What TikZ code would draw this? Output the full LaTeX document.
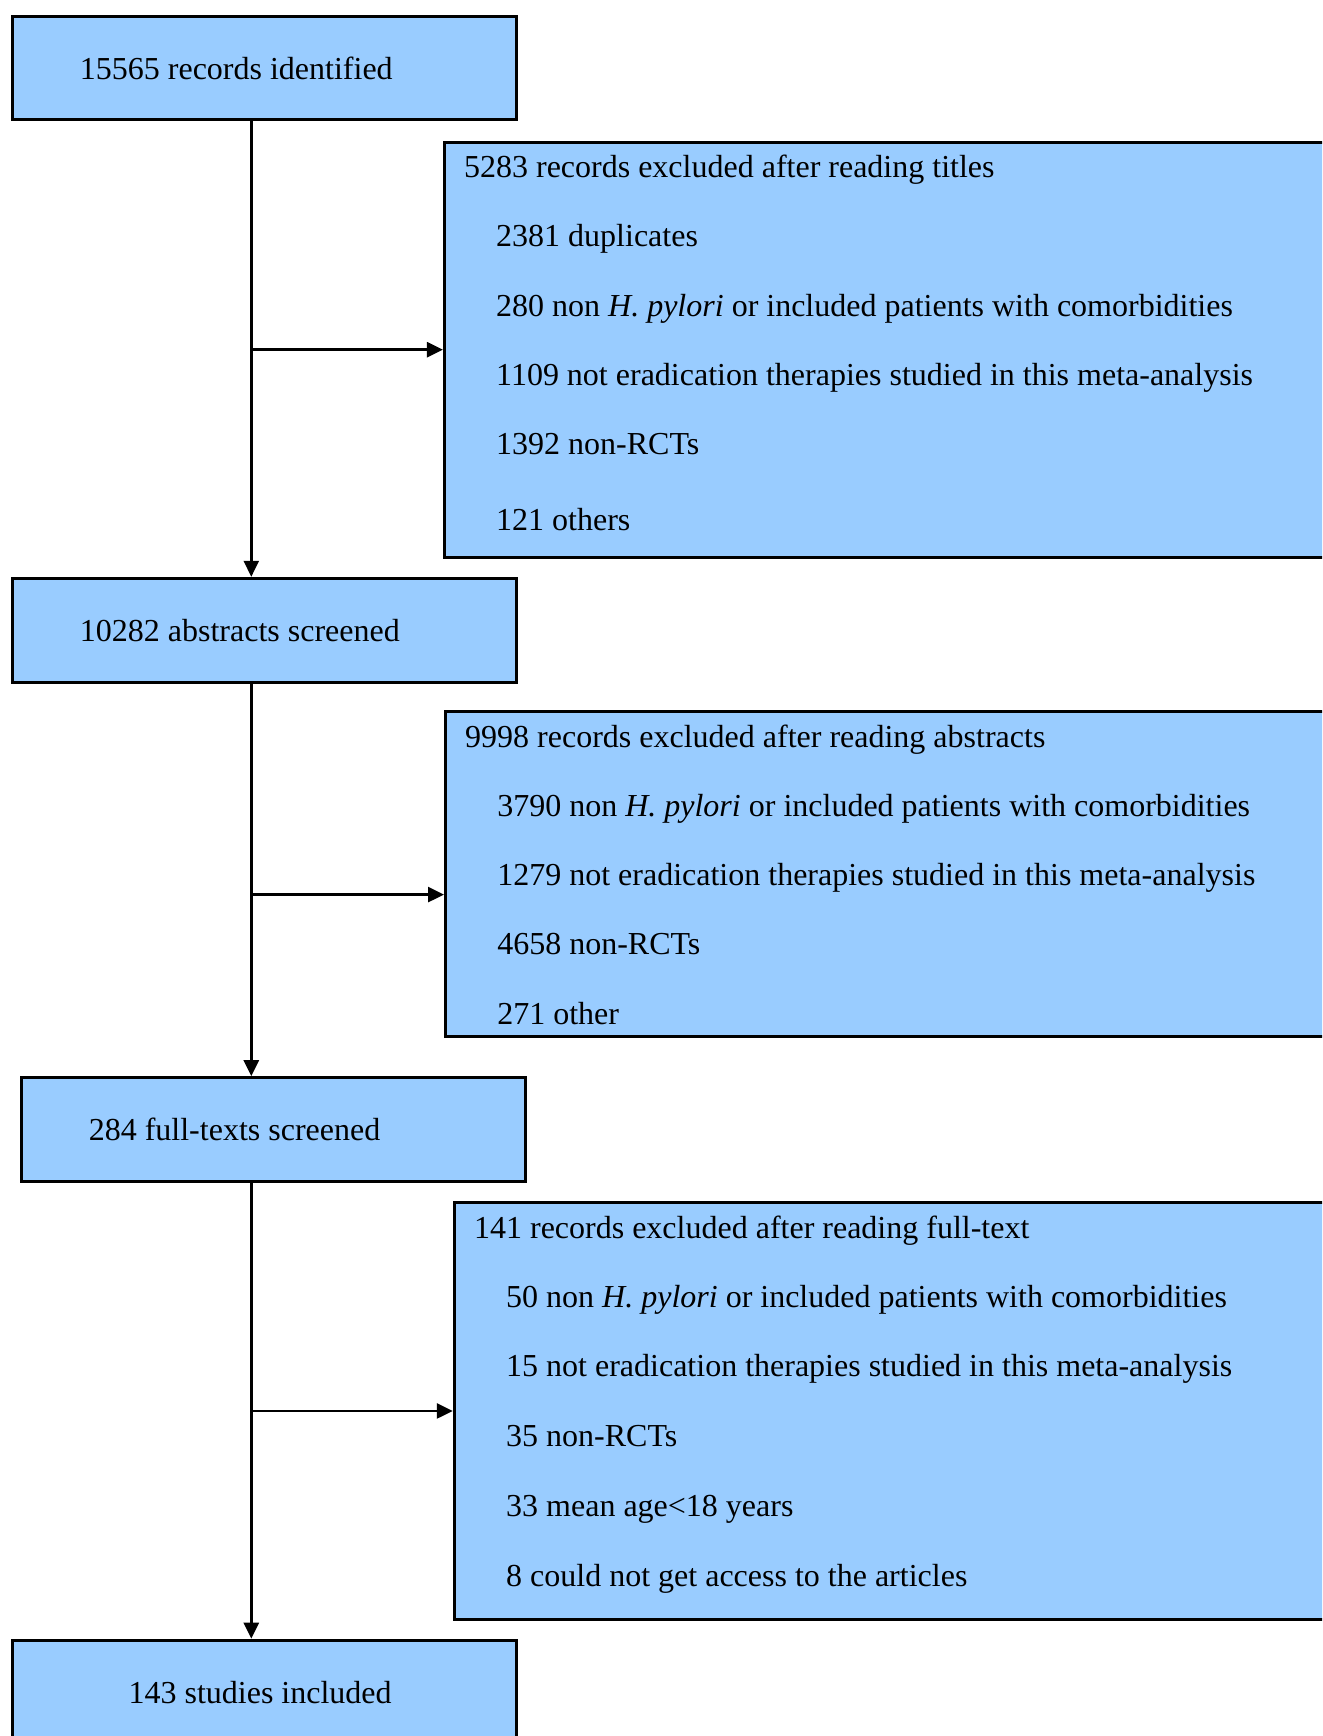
\documentclass[tikz,border=0pt]{standalone}
\usepackage{fontspec}
\setmainfont{Liberation Serif}
\usetikzlibrary{arrows.meta}
\definecolor{boxblue}{HTML}{99CCFF}
\tikzset{
  box/.style={draw=black, fill=boxblue, line width=3pt, rectangle, inner sep=0pt, anchor=north west},
  txt/.style={anchor=base west, inner sep=0pt, font=\fontsize{32}{38}\selectfont},
  arr/.style={draw=black, line width=2.6pt, -{Triangle[length=16pt,width=15pt]}}
}
\begin{document}
\begin{tikzpicture}[x=1pt,y=-1pt]
\useasboundingbox (0,0) rectangle (1322,1736);
\fill[white] (0,0) rectangle (1322,1736);
\clip (0,0) rectangle (1322,1736);
% main boxes
\node[box, minimum width=503.7pt, minimum height=103pt] (b1) at (11.1,15.5) {};
\node[box, minimum width=503.7pt, minimum height=104pt] (b2) at (11.1,576.8) {};
\node[box, minimum width=503.8pt, minimum height=104pt] (b3) at (19.9,1076.2) {};
\node[box, minimum width=503.7pt, minimum height=130pt] (b4) at (11.1,1638.7) {};
% exclusion boxes
\node[box, minimum width=920pt, minimum height=415.2pt] (r1) at (442.9,140.6) {};
\node[box, minimum width=920pt, minimum height=325.5pt] (r2) at (444.0,709.7) {};
\node[box, minimum width=920pt, minimum height=416.3pt] (r3) at (452.8,1201.3) {};
% main texts
\node[txt] (t1) at (79.7,79.1) {15565 records identified};
\node[txt] (t2) at (79.7,641.6) {10282 abstracts screened};
\node[txt] (t3) at (88.6,1140.9) {284 full-texts screened};
\node[txt] (t4) at (128.4,1703.4) {143 studies included};
% r1 texts
\node[txt] (r1a) at (463.9,177.7) {5283 records excluded after reading titles};
\node[txt] (r1b) at (496.0,246.3) {2381 duplicates};
\node[txt] (r1c) at (496.0,316.1) {280 non \textit{H. pylori} or included patients with comorbidities};
\node[txt] (r1d) at (496.0,385.8) {1109 not eradication therapies studied in this meta-analysis};
\node[txt] (r1e) at (496.0,454.5) {1392 non-RCTs};
\node[txt] (r1f) at (496.0,530.9) {121 others};
% r2 texts
\node[txt] (r2a) at (465.0,747.9) {9998 records excluded after reading abstracts};
\node[txt] (r2b) at (497.1,816.5) {3790 non \textit{H. pylori} or included patients with comorbidities};
\node[txt] (r2c) at (497.1,885.2) {1279 not eradication therapies studied in this meta-analysis};
\node[txt] (r2d) at (497.1,954.9) {4658 non-RCTs};
\node[txt] (r2e) at (497.1,1024.7) {271 other};
% r3 texts
\node[txt] (r3a) at (473.9,1238.4) {141 records excluded after reading full-text};
\node[txt] (r3b) at (506.0,1307.0) {50 non \textit{H. pylori} or included patients with comorbidities};
\node[txt] (r3c) at (506.0,1376.8) {15 not eradication therapies studied in this meta-analysis};
\node[txt] (r3d) at (506.0,1446.5) {35 non-RCTs};
\node[txt] (r3e) at (506.0,1516.3) {33 mean age<18 years};
\node[txt] (r3f) at (506.0,1586.0) {8 could not get access to the articles};
% connectors
\coordinate (v) at (251.3,0);
\coordinate (h2) at (0,894.6);
\draw[arr] (b1.south -| v) -- (b2.north -| v);
\draw[arr] (b2.south -| v) -- (b3.north -| v);
\draw[arr] (b3.south -| v) -- (b4.north -| v);
\draw[arr] (v |- r1.west) -- (r1.west);
\draw[arr] (v |- h2) -- (r2.west |- h2);
\draw[arr] (v |- r3.west) -- (r3.west);
\end{tikzpicture}
\end{document}
